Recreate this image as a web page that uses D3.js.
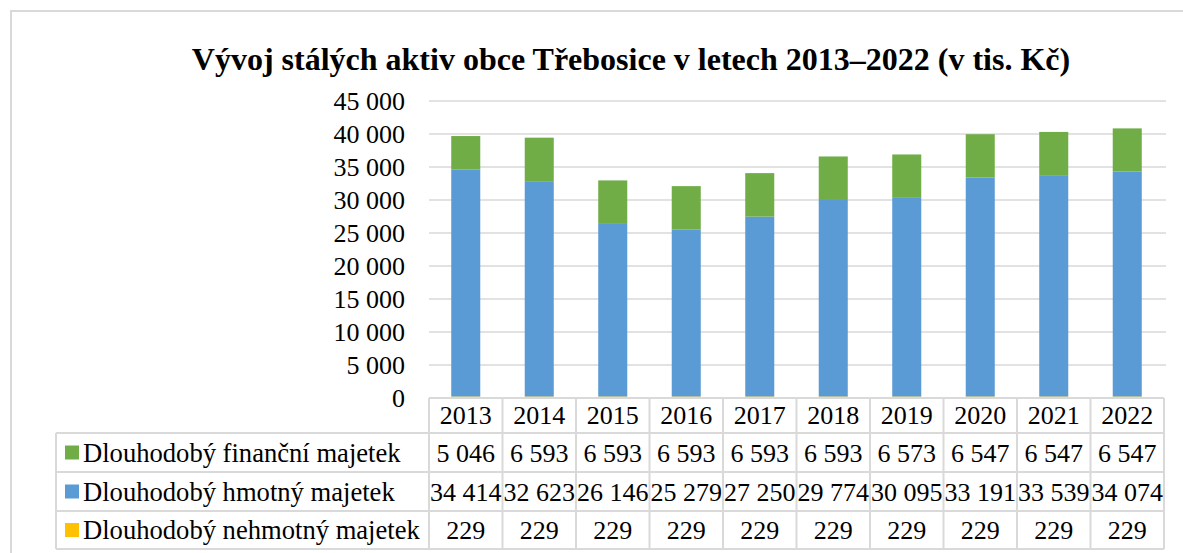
<!DOCTYPE html>
<html>
<head>
<meta charset="utf-8">
<script src="https://cdn.jsdelivr.net/npm/d3@7"></script>
<style>
  body { margin: 0; background: #fff; }
  text { font-family: "Liberation Serif", "Times New Roman", serif; fill: #000; }
</style>
</head>
<body>
<svg id="chart" width="1183" height="553"></svg>
<script>
// data
let years = ["2013", "2014", "2015", "2016", "2017", "2018", "2019", "2020", "2021", "2022"];
let financni = [5046, 6593, 6593, 6593, 6593, 6593, 6573, 6547, 6547, 6547];
let hmotny = [34414, 32623, 26146, 25279, 27250, 29774, 30095, 33191, 33539, 34074];
let nehmotny = [229, 229, 229, 229, 229, 229, 229, 229, 229, 229];
let seriesNames = ["Dlouhodobý finanční majetek", "Dlouhodobý hmotný majetek", "Dlouhodobý nehmotný majetek"];
let yTicks = [0, 5000, 10000, 15000, 20000, 25000, 30000, 35000, 40000, 45000];

let colors = {fin: "#70AD47", hmo: "#5B9BD5", neh: "#FFC000"};
let gridColor = "#D9D9D9";

let rows = years.map((y, i) => ({year: y, neh: nehmotny[i], hmo: hmotny[i], fin: financni[i]}));

let locale = d3.formatLocale({decimal: ",", thousands: " ", grouping: [3], currency: ["", ""]});
let fmt = locale.format(",d");

let plot = {left: 429, right: 1164, top: 101, bottom: 398};

let svg = d3.select("#chart");

// outer frame
svg.append("rect")
  .attr("x", 11).attr("y", 11)
  .attr("width", 1200).attr("height", 600)
  .attr("fill", "none")
  .attr("stroke", gridColor)
  .attr("stroke-width", 2);

// title
svg.append("text")
  .attr("x", 631).attr("y", 70)
  .attr("text-anchor", "middle")
  .style("font-size", "32px")
  .style("font-weight", "bold")
  .text("Vývoj stálých aktiv obce Třebosice v letech 2013–2022 (v tis. Kč)");

// scales
let xScale = d3.scaleBand()
  .domain(years)
  .range([plot.left, plot.right])
  .paddingInner(0.605)
  .paddingOuter(0.3025);

let cellScale = d3.scaleBand()
  .domain(years)
  .range([plot.left, plot.right]);

let yScale = d3.scaleLinear()
  .domain([0, 45000])
  .range([plot.bottom, plot.top]);

// gridlines
svg.append("g")
  .selectAll("line")
  .data(yTicks.filter(d => d > 0))
  .enter().append("line")
    .attr("x1", plot.left).attr("x2", plot.right + 2)
    .attr("y1", d => yScale(d)).attr("y2", d => yScale(d))
    .attr("stroke", gridColor)
    .attr("stroke-width", 1.5);

// y axis labels
let yAxis = d3.axisLeft(yScale)
  .tickValues(yTicks)
  .tickFormat(fmt)
  .tickSize(0)
  .tickPadding(0);

let yG = svg.append("g")
  .attr("transform", "translate(405, 0)")
  .call(yAxis);
yG.select(".domain").remove();
yG.selectAll("text")
  .style("font-family", '"Liberation Serif", "Times New Roman", serif')
  .style("font-size", "26px")
  .attr("fill", "#000");

// stacked bars
let stack = d3.stack().keys(["neh", "hmo", "fin"]);
let stacked = stack(rows);

svg.append("g")
  .selectAll("g")
  .data(stacked)
  .enter().append("g")
    .attr("fill", d => colors[d.key])
  .selectAll("rect")
  .data(d => d)
  .enter().append("rect")
    .attr("x", d => xScale(d.data.year))
    .attr("width", xScale.bandwidth())
    .attr("y", d => yScale(d[1]))
    .attr("height", d => yScale(d[0]) - yScale(d[1]));

// data table
let table = {left: 56, headTop: 398, rowLines: [433, 472, 511, 549]};
let tableG = svg.append("g");

function hline(x1, x2, y) {
  tableG.append("line")
    .attr("x1", x1).attr("x2", x2).attr("y1", y).attr("y2", y)
    .attr("stroke", gridColor).attr("stroke-width", 2);
}
function vline(x, y1, y2) {
  tableG.append("line")
    .attr("x1", x).attr("x2", x).attr("y1", y1).attr("y2", y2)
    .attr("stroke", gridColor).attr("stroke-width", 2);
}

hline(plot.left, plot.right, table.headTop);
table.rowLines.forEach(y => hline(table.left, plot.right, y));
vline(table.left, table.rowLines[0], table.rowLines[3]);
years.forEach(y => vline(cellScale(y), table.headTop, table.rowLines[3]));
vline(plot.right, table.headTop, table.rowLines[3]);

// header (years)
tableG.selectAll(".year")
  .data(years)
  .enter().append("text")
    .attr("class", "year")
    .attr("x", d => cellScale(d) + cellScale.bandwidth() / 2)
    .attr("y", 424)
    .attr("text-anchor", "middle")
    .style("font-size", "26px")
    .text(d => d);

let tableRows = [
  {name: seriesNames[0], key: "fin", values: financni},
  {name: seriesNames[1], key: "hmo", values: hmotny},
  {name: seriesNames[2], key: "neh", values: nehmotny}
];

tableRows.forEach((r, i) => {
  let top = table.rowLines[i];
  let bottom = table.rowLines[i + 1];
  let mid = (top + bottom) / 2;
  tableG.append("rect")
    .attr("x", 65).attr("y", mid - 7)
    .attr("width", 14).attr("height", 14)
    .attr("fill", colors[r.key]);
  tableG.append("text")
    .attr("x", 83).attr("y", mid + 9)
    .style("font-size", "26.6px")
    .text(r.name);
  tableG.selectAll(".v" + i)
    .data(r.values)
    .enter().append("text")
      .attr("x", (d, j) => cellScale(years[j]) + cellScale.bandwidth() / 2)
      .attr("y", mid + 9)
      .attr("text-anchor", "middle")
      .style("font-size", "26px")
      .text(d => fmt(d));
});
</script>
</body>
</html>
